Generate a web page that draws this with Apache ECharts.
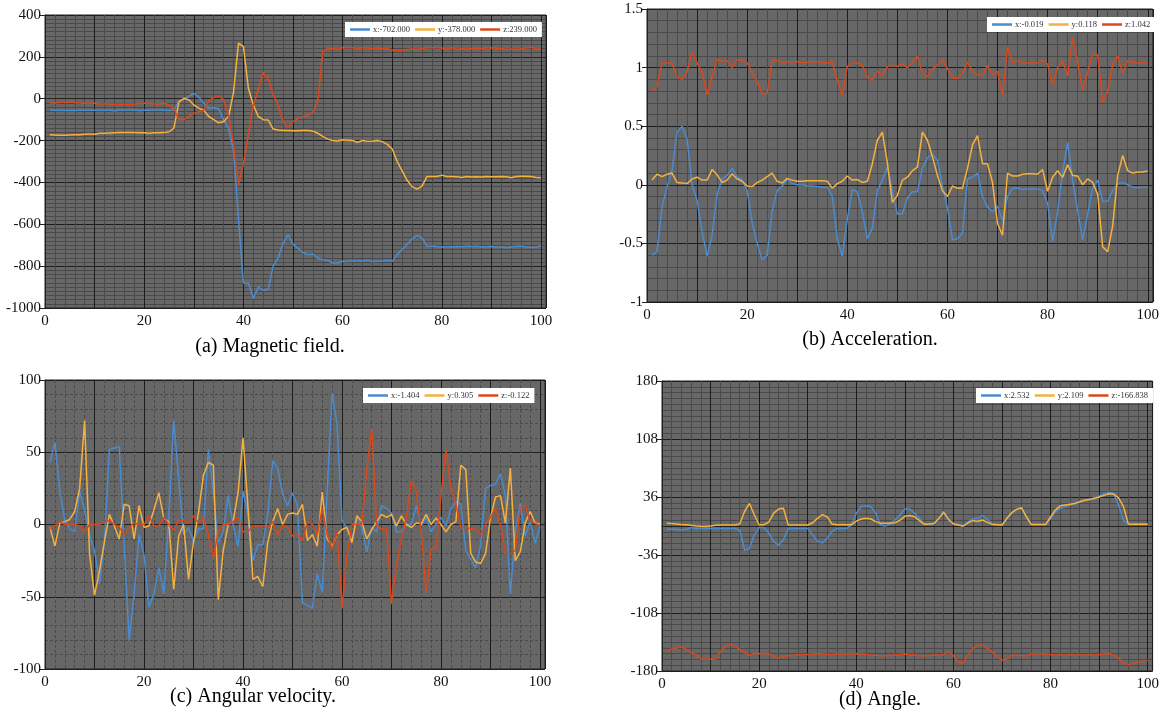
<!DOCTYPE html>
<html><head><meta charset="utf-8">
<script src="https://cdn.jsdelivr.net/npm/echarts@6/dist/echarts.min.js"></script>
<style>html,body{margin:0;padding:0;background:#fff}#c{width:1162px;height:713px}</style>
</head><body><div id="c"></div>
<script>
// x positions (sample index)
const idx = Array.from({length:100}, (_, i) => i + 1);

// (a) Magnetic field
const magLegend = ['x:-702.000','y:-378.000','z:239.000'];
const magX = [-55,-55,-56,-56,-56,-56,-55,-55,-55,-55,-56,-55,-55,-57,-55,-54,-54,-54,-57,-55,-55,-54,-54,-55,-56,
 -55,-12,-2,12,25,8,-22,-45,-43,-47,-100,-140,-250,-570,-880,-880,-955,-900,-915,-910,-800,-760,-690,-650,-695,
 -715,-735,-745,-742,-762,-770,-772,-785,-785,-777,-778,-775,-775,-775,-772,-778,-777,-776,-772,-777,-745,-720,-697,-670,-655,
 -665,-705,-705,-706,-708,-708,-708,-706,-707,-705,-706,-705,-708,-707,-706,-708,-709,-712,-708,-705,-705,-708,-711,-710,-702];
const magY = [-172,-173,-174,-174,-173,-172,-172,-170,-168,-170,-165,-165,-164,-163,-162,-162,-161,-162,-163,-163,-165,-163,-163,-162,-158,
 -140,-15,2,-5,-30,-45,-55,-85,-100,-115,-110,-85,30,265,250,50,-30,-85,-100,-102,-145,-150,-152,-152,-153,
 -153,-152,-152,-155,-165,-180,-193,-200,-202,-196,-198,-200,-208,-200,-203,-203,-200,-205,-218,-240,-300,-345,-390,-420,-432,
 -418,-372,-372,-372,-365,-372,-372,-373,-376,-372,-374,-373,-374,-372,-373,-373,-372,-373,-378,-372,-370,-370,-372,-376,-378];
const magZ = [-20,-20,-17,-17,-15,-18,-20,-22,-22,-20,-25,-25,-25,-27,-27,-27,-25,-27,-22,-22,-22,-25,-25,-22,-30,
 -50,-100,-100,-85,-70,-62,-55,-10,5,15,-5,-80,-220,-410,-310,-170,-30,40,125,95,20,-30,-110,-135,-110,
 -95,-88,-78,-68,-10,225,242,240,238,244,245,243,240,244,242,240,242,240,240,232,230,232,235,238,236,
 240,244,244,243,242,238,243,236,240,238,240,242,240,242,243,241,240,236,238,238,238,242,246,238,239];

// (b) Acceleration
const accLegend = ['x:-0.019','y:0.118','z:1.042'];
const accX = [-0.6,-0.57,-0.19,-0.02,0.12,0.45,0.5,0.39,0.0,-0.13,-0.4,-0.61,-0.43,-0.08,0.05,0.08,0.14,0.07,0.04,-0.05,-0.32,-0.5,-0.64,-0.6,-0.22,
 -0.05,-0.01,0.05,0.01,0.0,0.0,-0.01,-0.01,-0.015,-0.02,-0.02,-0.1,-0.46,-0.61,-0.29,-0.04,-0.06,-0.23,-0.46,-0.37,
 -0.05,0.04,0.15,-0.05,-0.25,-0.25,-0.11,-0.06,-0.06,0.14,0.23,0.26,0.21,-0.01,-0.2,-0.47,-0.46,-0.41,0.05,0.065,
 0.1,-0.1,-0.19,-0.23,-0.18,-0.31,-0.1,-0.03,-0.03,-0.04,-0.035,-0.035,-0.035,-0.05,-0.16,-0.48,-0.23,0.11,0.36,0.04,
 -0.22,-0.47,-0.25,-0.03,0.04,-0.14,-0.14,-0.05,0.01,0.02,0.0,-0.02,-0.025,-0.02,-0.019];
const accY = [0.04,0.09,0.07,0.09,0.1,0.02,0.015,0.01,0.05,0.065,0.04,0.04,0.13,0.085,0.02,0.04,0.095,0.05,0.03,-0.01,-0.015,0.02,0.04,0.07,0.1,
 0.03,0.015,0.055,0.04,0.03,0.03,0.035,0.035,0.035,0.035,0.03,-0.03,0.01,0.03,0.075,0.04,0.045,0.02,0.03,0.18,
 0.38,0.45,0.19,-0.15,-0.09,0.04,0.065,0.12,0.15,0.45,0.38,0.24,0.08,-0.05,-0.1,-0.01,-0.03,-0.03,0.14,0.34,
 0.42,0.18,0.18,0.02,-0.33,-0.43,0.1,0.075,0.075,0.09,0.095,0.095,0.09,0.13,-0.055,0.065,0.12,0.065,0.17,0.08,
 0.075,0.0,0.05,0.02,-0.08,-0.53,-0.57,-0.35,0.08,0.25,0.12,0.1,0.11,0.11,0.118];
const accZ = [0.8,0.84,1.04,1.04,1.04,0.92,0.9,0.96,1.14,1.04,0.96,0.77,0.92,1.07,1.05,1.06,1.0,1.07,1.065,1.04,0.96,0.88,0.78,0.78,1.07,
 1.06,1.04,1.05,1.05,1.05,1.04,1.045,1.05,1.05,1.045,1.04,1.05,0.89,0.76,1.01,1.04,1.04,1.02,0.92,0.89,
 0.97,0.93,1.01,1.02,1.01,1.03,1.0,1.04,1.1,0.95,0.92,0.99,1.02,1.07,0.99,0.91,0.91,0.95,1.05,0.97,
 0.94,0.93,1.02,0.94,0.97,0.76,1.18,1.04,1.06,1.04,1.04,1.04,1.04,1.065,1.03,0.85,1.0,1.06,0.93,1.26,
 1.045,0.81,0.96,1.12,1.11,0.7,0.8,1.03,1.1,0.95,1.06,1.045,1.04,1.04,1.042];

// (c) Angular velocity
const gyrLegend = ['x:-1.404','y:0.305','z:-0.122'];
const gyrX = [43,57,23,3,-3,-5,23,10,-7,-18,-41,-12,52,53,54,-14,-80,-48,-7,-21,-57,-48,-30,-48,5,
 72,32,-7,-2,-12,-3,-3,52,22,-13,-5,20,0,-15,23,7,-25,-14,-14,7,
 44,39,21,13,22,13,-54,-56,-58,-34,-47,23,91,69,3,-3,-11,5,-2,-19,
 -2,-5,13,11,8,-5,-5,0,0,13,-1,5,-5,0,5,-1,11,16,14,-18,
 -24,-30,-14,25,27,28,35,20,-48,-5,15,-8,2,-13,-1.404];
const gyrY = [-2,-15,1,2,3.5,9,25,72,-20,-49,-32,-12,7,-1,-10,14,13,-10,13,-2,-1,10,22,4,2,
 -45,-8,0,-38,-12,8,34,43,41,-52,-18,0,2,22,60,12,-38,-36,-43,-12,
 2,11,0,7,8,7,14,-11,-7,-15,22.5,-10,-15,-7,-3.5,-2,-12.6,6,2,-10,
 -3.5,2,7,5,7,-1,6,0,-2,1,0.5,7,0,4.6,0,-5,0,2,41,38,
 -20,-26,-27,-20,5,19,20,1,39,-25,-19,1,9,1,0.305];
const gyrZ = [-3,-1,2,0,0,0,-1,-5,0,0,0,2,3,0,-2,-7,-2,1,0,0,6,-1,-1,5,0,
 -4,3,3,1,6,1,5,-7,-23,-5,0,0,2,5,-5,-5,-1,-1,-1,-2,
 2,-7,-1,-2,-8,-7,-11,2,0,-7,11,-7,-17,-5,-58,-21,0,0,0,38,
 66,0,-3,-3,-55,-28,-10,5,30,23,-5,-47,-17,-16,20,52,25,14,-2,-2,
 -3,-3,-7,0,5,11,0,-20,-20,-18,12,13,3,0.5,-0.122];

// (d) Angle
const angLegend = ['x:2.532','y:2.109','z:-166.838'];
const angX = [-4,-4,-4,-5,-4,-2,-3,-3,-3,-3,-3,-3,-3,-3,-3,-5,-30,-28,-11,-2,-2,-9,-19,-24,-17,
 -3,-3,-3,-3,-3,-11,-19,-21,-15,-7,-3,-3,-3,1,16,24,25,24,16,1,0,3,8,14,21,
 21,16,9,3,2,3,9,18,8,3,2,0,5,9,9.5,13,8,3,2,1,9,16,21,22,12,
 2,2,2,2,9,18,22,24,26,28,30,32,33,35,37,40,42,40,26,7,2.5,2.5,2.5,2.5,2.532];
const angY = [3.3,3,2.5,2,1.6,1,0,-0.4,-0.5,0,1,1.2,1.2,1.2,1.2,2.5,18,28,14,1.6,1.6,5,16,21,22,
 1.2,1.2,1.2,1.2,1.2,4,9.5,14,11.5,2.5,1.6,1.6,1.6,1.6,6,8.7,9.5,8.7,5.4,3.3,3.3,3.3,4,7.4,12,
 13,11.5,6.6,2,2.5,3,9.5,17,8,2.5,1.2,0,4,6.6,6,7.4,4.5,2,1.6,1.2,9.5,16.5,20.6,22.7,11.5,
 2,2,2,2,11.5,20,25,26,27,28,30,32,33,34,36,38,40,39.6,35,24,2.5,2.1,2.1,2.1,2.109];
const angZ = [-155,-153,-151.5,-150,-153,-157,-160,-165,-165,-165,-165,-156,-149.5,-147,-148.6,-153.6,-157,-160.6,-157.7,-158.5,-158.5,-159,-162,-164,-162,
 -161,-160,-160,-159.5,-159.5,-159,-158.5,-159,-159.5,-159.5,-159,-159,-159,-159,-158.5,-159,-159.5,-160,-160.6,-161,-161,-160.5,-160,-159.5,-159,
 -159.5,-160,-161,-161,-160.5,-160.5,-160,-160,-156,-161,-169,-170,-160,-152,-148,-148,-152,-156,-162,-167,-165,-161,-160,-161,-161,
 -159,-159,-159,-159,-159.5,-160,-160,-160,-160,-160,-160,-160,-160,-160,-159.5,-159,-158.5,-160,-164,-170,-172,-171,-169,-168,-166.838];

const captions = ['(a) Magnetic field.','(b) Acceleration.','(c) Angular velocity.','(d) Angle.'];

const COLORS = ['#4a8bcf','#f5b03e','#d9481c'];
const SERIF = '"Liberation Serif","Times New Roman",serif';

const grids = [
  {left:45, top:15, width:501, height:293},
  {left:647, top:9, width:508, height:293},
  {left:45, top:380, width:500, height:289},
  {left:662, top:381, width:497, height:290}
];
const yDefs = [
  {min:-1000, max:400, interval:200, minor:10, dashed:false},
  {min:-1, max:1.5, interval:0.5, minor:5, dashed:false},
  {min:-100, max:100, interval:50, minor:5, dashed:true},
  {min:-180, max:180, interval:72, minor:10, dashed:false}
];
const legendPos = [
  {left:345, top:22}, {left:987, top:17}, {left:363, top:388}, {left:976, top:388}
];
const sets = [
  [magLegend, magX, magY, magZ],
  [accLegend, accX, accY, accZ],
  [gyrLegend, gyrX, gyrY, gyrZ],
  [angLegend, angX, angY, angZ]
];

const option = {
  animation:false,
  backgroundColor:'#fff',
  grid: grids.map(g => Object.assign({show:true, backgroundColor:'#676767', borderColor:'#222', borderWidth:1}, g)),
  xAxis: grids.map((g,i) => ({
    type:'value', gridIndex:i, min:0, max:101, interval:10,
    axisLine:{show:true, lineStyle:{color:'#222', width:1}},
    axisTick:{show:true, length:5, lineStyle:{color:'#222'}},
    axisLabel:{fontFamily:SERIF, fontSize:15, color:'#111', margin:6,
      formatter: v => (v % 20 === 0 && v <= 100) ? String(v) : ''},
    showMaxLabel:false,
    splitLine:{show:true, lineStyle:{color:'#1c1c1c', width:1}},
    minorTick:{show:true, splitNumber:5, length:0},
    minorSplitLine:{show:true, lineStyle:{color:'#4a4a4a', width:1, type: yDefs[i].dashed ? [3,2] : 'solid'}}
  })),
  yAxis: yDefs.map((d,i) => ({
    type:'value', gridIndex:i, min:d.min, max:d.max, interval:d.interval,
    axisLine:{show:true, lineStyle:{color:'#222', width:1}},
    axisTick:{show:true, length:5, lineStyle:{color:'#222'}},
    axisLabel:{fontFamily:SERIF, fontSize:15, color:'#111', margin:4,
      formatter: v => String(Math.round(v * 1000) / 1000)},
    splitLine:{show:true, lineStyle:{color:'#1c1c1c', width:1}},
    minorTick:{show:true, splitNumber:d.minor, length:0},
    minorSplitLine:{show:true, lineStyle:{color:'#4a4a4a', width:1, type: d.dashed ? [3,2] : 'solid'}}
  })),
  legend: sets.map((s,i) => ({
    data: s[0], left: legendPos[i].left, top: legendPos[i].top,
    orient:'horizontal', icon:'rect', itemWidth:20, itemHeight:2.5, itemGap:5,
    backgroundColor:'#fff', padding:[3,5], borderRadius:0,
    textStyle:{fontFamily:SERIF, fontSize:8.5, color:'#333', padding:[0,0,0,-2]},
    selectedMode:false
  })),
  series: [],
  graphic: captions.map((t,i) => ({
    type:'text',
    x:[270,870,253,880][i], y:[347,340,697,700][i],
    style:{text:t, font:'20px ' + SERIF, fill:'#000', textAlign:'center', textVerticalAlign:'middle'}
  }))
};
sets.forEach((s,gi) => {
  for (let k=0;k<3;k++){
    option.series.push({
      type:'line', name:s[0][k], xAxisIndex:gi, yAxisIndex:gi,
      data: idx.map((x,j) => [x, s[k+1][j]]),
      showSymbol:false, symbol:'none',
      lineStyle:{color:COLORS[k], width:1.5},
      itemStyle:{color:COLORS[k]}
    });
  }
});
const chart = echarts.init(document.getElementById('c'), null, {renderer:'canvas'});
chart.setOption(option);
</script></body></html>
